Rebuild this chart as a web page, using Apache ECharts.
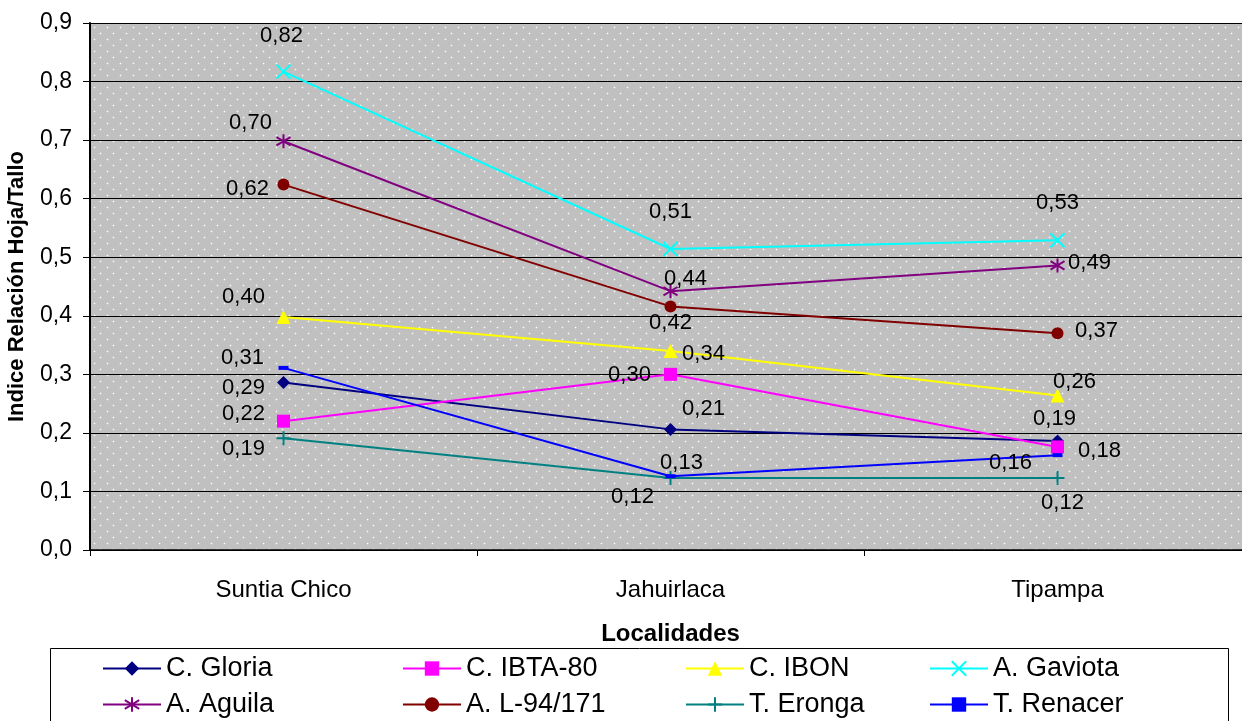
<!DOCTYPE html>
<html>
<head>
<meta charset="utf-8">
<script src="https://cdn.jsdelivr.net/npm/echarts@6/dist/echarts.min.js"></script>
<style>
html,body{margin:0;padding:0;background:#fff;}
#chart{width:1242px;height:721px;}
</style>
</head>
<body>
<div id="chart"></div>
<script>
// ---- data ----
const categories = ['Suntia Chico', 'Jahuirlaca', 'Tipampa'];
const seriesNames = ['C. Gloria', 'C. IBTA-80', 'C. IBON', 'A. Gaviota', 'A. Aguila', 'A. L-94/171', 'T. Eronga', 'T. Renacer'];
const cGloria  = [0.286, 0.206, 0.186];
const cIbta80  = [0.220, 0.300, 0.176];
const cIbon    = [0.398, 0.340, 0.264];
const aGaviota = [0.817, 0.514, 0.529];
const aAguila  = [0.698, 0.442, 0.486];
const aL94     = [0.624, 0.416, 0.370];
const tEronga  = [0.191, 0.123, 0.123];
const tRenacer = [0.311, 0.126, 0.162];
const yMin = 0, yMax = 0.9, yStep = 0.1;

// ---- styling (label offsets in px, per series per category) ----
const labelOffsets = [
  [[-40, 5], [33, -20], [-3, -22]],
  [[-40, -7], [-41, 1], [42, 4]],
  [[-40, -20], [33, 3], [17, -13]],
  [[-2, -36], [0, -37], [0, -37]],
  [[-33, -18], [15, -12], [32, -2]],
  [[-36, 4], [0, 17], [39, -2]],
  [[-40, 11], [-38, 19], [5, 25]],
  [[-41, -10], [11, -13], [-47, 8]]
];
const colors = ['#000080', '#FF00FF', '#FFFF00', '#00FFFF', '#800080', '#800000', '#008080', '#0000FF'];
const symbols = [
  'diamond', 'rect', 'triangle',
  'path://M0,0 L10,10 M10,0 L0,10',
  'path://M5,0 L5,10 M0,2 L10,8 M0,8 L10,2',
  'circle',
  'path://M5,0 L5,10 M0,5 L10,5',
  'rect'
];
const symbolSizes = [13, 13, 14, 14, 14, 12, 14, [10, 4]];
const strokeSymbol = [false, false, false, true, true, false, true, false];
const allValues = [cGloria, cIbta80, cIbon, aGaviota, aAguila, aL94, tEronga, tRenacer];
// legend slots: [left, top]
const legendSlots = [[102, 655], [402, 655], [685, 655], [929, 655], [102, 691], [402, 691], [685, 691], [929, 691]];
const legendOrder = [0, 1, 2, 3, 4, 5, 6, 7];

// dotted background pattern
const pc = document.createElement('canvas');
pc.width = 13; pc.height = 12;
const pctx = pc.getContext('2d');
pctx.fillStyle = '#C0C0C0';
pctx.fillRect(0, 0, 13, 12);
pctx.fillStyle = 'rgba(255,255,255,0.95)';
pctx.fillRect(3, 3, 1, 1);
pctx.fillRect(9, 9, 1, 1);
pctx.fillStyle = 'rgba(255,255,255,0.25)';
[[2,3],[4,3],[3,2],[3,4],[8,9],[10,9],[9,8],[9,10]].forEach(p => pctx.fillRect(p[0], p[1], 1, 1));

const FONT = '"Liberation Sans", Arial, sans-serif';
const fmt = v => v.toFixed(2).replace('.', ',');

const series = allValues.map((vals, i) => ({
  name: seriesNames[i],
  type: 'line',
  data: vals.map((v, j) => ({
    value: v,
    label: { offset: labelOffsets[i][j] }
  })),
  symbol: symbols[i],
  symbolSize: symbolSizes[i],
  showAllSymbol: true,
  lineStyle: { color: colors[i], width: 2 },
  itemStyle: strokeSymbol[i]
    ? { color: colors[i], borderColor: colors[i], borderWidth: 2 }
    : { color: colors[i], borderWidth: 0 },
  label: {
    show: true,
    position: 'inside',
    formatter: p => fmt(p.value),
    color: '#000',
    fontSize: 22,
    fontFamily: FONT
  },
  emphasis: { disabled: true },
  animation: false
}));

const legends = legendOrder.map(i => ({
  orient: 'horizontal',
  left: legendSlots[i][0],
  top: legendSlots[i][1],
  padding: 0,
  data: [seriesNames[i]],
  itemWidth: 58,
  itemHeight: 18,
  textStyle: { fontSize: 27, color: '#000', fontFamily: FONT },
  selectedMode: false
}));

const chart = echarts.init(document.getElementById('chart'), null, { renderer: 'canvas' });
chart.setOption({
  backgroundColor: '#ffffff',
  animation: false,
  color: colors,
  grid: {
    left: 90, top: 23, width: 1161, height: 527,
    outerBoundsMode: 'none',
    containLabel: false,
    show: true,
    backgroundColor: { image: pc, repeat: 'repeat' },
    borderWidth: 0
  },
  xAxis: {
    type: 'category',
    data: categories,
    boundaryGap: true,
    name: 'Localidades',
    nameLocation: 'middle',
    nameGap: 72,
    nameTextStyle: { fontSize: 24, fontWeight: 'bold', color: '#000', fontFamily: FONT },
    axisLine: { lineStyle: { color: '#000', width: 1.5 } },
    axisTick: { show: true, length: 6, lineStyle: { color: '#000' } },
    axisLabel: { fontSize: 24, color: '#000', fontFamily: FONT, margin: 28 },
    splitLine: { show: false }
  },
  yAxis: {
    type: 'value',
    min: yMin, max: yMax, interval: yStep,
    name: 'Indice Relación Hoja/Tallo',
    nameLocation: 'middle',
    nameGap: 62,
    nameRotate: 90,
    nameTextStyle: { fontSize: 22, fontWeight: 'bold', color: '#000', fontFamily: FONT },
    axisLine: { show: true, lineStyle: { color: '#000', width: 2 } },
    axisTick: { show: true, length: 7, lineStyle: { color: '#000' } },
    axisLabel: { fontSize: 23, color: '#000', fontFamily: FONT, margin: 18,
      formatter: v => v.toFixed(1).replace('.', ',') },
    splitLine: { show: true, lineStyle: { color: '#000', width: 1 } }
  },
  legend: legends,
  graphic: [{
    type: 'rect',
    shape: { x: 50.5, y: 648.5, width: 1178, height: 100 },
    style: { fill: 'none', stroke: '#000', lineWidth: 1 },
    silent: true,
    z: -1
  }],
  series: series
});
</script>
</body>
</html>
